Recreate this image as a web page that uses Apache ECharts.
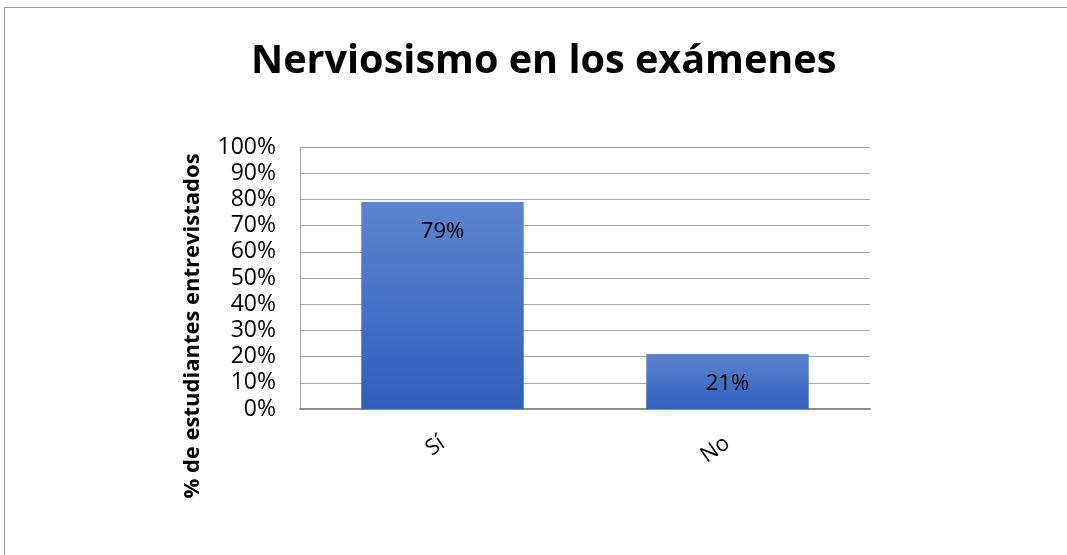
<!DOCTYPE html>
<html>
<head>
<meta charset="utf-8">
<script src="https://cdn.jsdelivr.net/npm/echarts@6/dist/echarts.min.js"></script>
<style>
html,body{margin:0;padding:0;background:#fff;}
#frame{position:absolute;left:4px;top:7px;width:1063px;height:548px;border-left:1px solid #9a9a9a;border-top:1px solid #9a9a9a;}
#c{position:absolute;left:0;top:0;width:1067px;height:555px;}
</style>
</head>
<body>
<div id="frame"></div>
<div id="c"></div>
<script>
const titleText = 'Nerviosismo en los exámenes';
const yAxisTitle = '% de estudiantes entrevistados';
const categories = ['Sí', 'No'];
const values = [79, 21];
const yTicks = { min: 0, max: 100, interval: 10 };

const chart = echarts.init(document.getElementById('c'), null, {renderer: 'canvas'});
const font = '"Open Sans", sans-serif';
chart.setOption({
  backgroundColor: 'transparent',
  animation: false,
  title: {
    text: titleText, left: 246, top: 37,
    textStyle: {fontFamily: font, fontWeight: 'bold', fontSize: 39.6, color: '#000'}
  },
  graphic: [{
    type: 'text', x: 193, y: 326, rotation: Math.PI / 2,
    style: {text: yAxisTitle, fontFamily: font, fontWeight: 'bold', fontSize: 22, fill: '#000', align: 'center', verticalAlign: 'middle'}
  }],
  grid: {left: 300, right: 197, top: 147, bottom: 146, containLabel: false},
  xAxis: {
    type: 'category', data: categories,
    axisLine: {lineStyle: {color: '#8c8c8c', width: 2}},
    axisTick: {show: false},
    axisLabel: {rotate: 35, margin: 32, fontFamily: font, fontSize: 22, color: '#000'}
  },
  yAxis: {
    type: 'value', min: yTicks.min, max: yTicks.max, interval: yTicks.interval,
    axisLine: {show: true, lineStyle: {color: '#a6a6a6', width: 1}},
    axisTick: {show: false},
    splitLine: {lineStyle: {color: '#a6a6a6', width: 1}},
    axisLabel: {formatter: '{value}%', margin: 24, fontFamily: font, fontSize: 23, color: '#000'}
  },
  series: [{
    type: 'bar', data: values, barWidth: '57%',
    itemStyle: {color: new echarts.graphic.LinearGradient(0, 0, 0, 1, [
      {offset: 0, color: '#5d84ce'}, {offset: 1, color: '#2e5fbc'}])},
    label: {show: true, position: 'insideTop', distance: 19, formatter: '{c}%',
      fontFamily: font, fontSize: 22, color: '#000'}
  }]
});
</script>
</body>
</html>
